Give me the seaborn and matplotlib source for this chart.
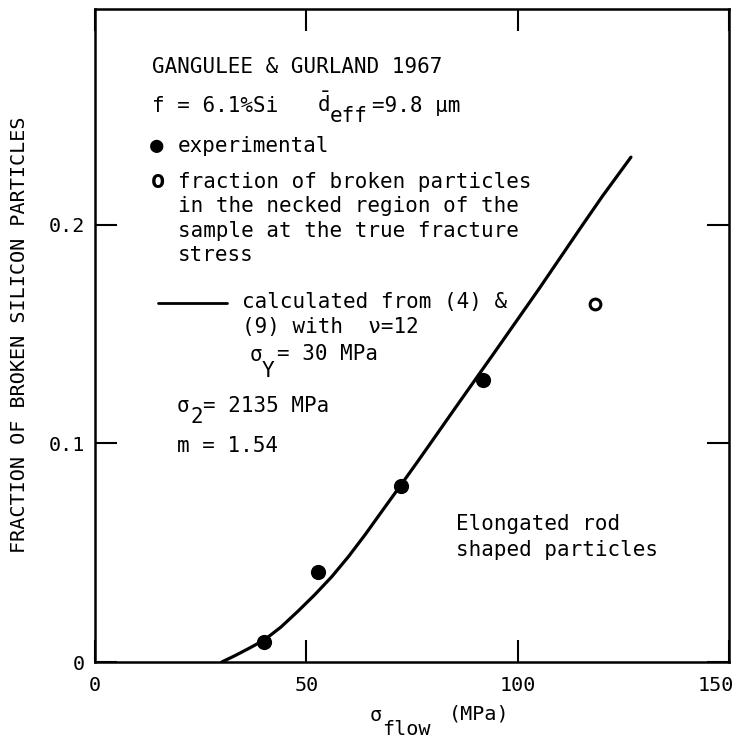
import numpy as np
import pandas as pd
import matplotlib
matplotlib.use("Agg")
import matplotlib.pyplot as plt
from matplotlib.lines import Line2D
import matplotlib.transforms as mtransforms
import seaborn as sns

# ---- data ----
exp_x = [40.0, 52.8, 72.3, 91.7]
exp_y = [0.0093, 0.041, 0.0805, 0.129]
neck_x = [118.3]
neck_y = [0.164]
calc_x = [30, 33, 36, 40, 44, 48, 52, 56, 60, 64, 68, 72, 76, 80, 85, 90,
          95, 100, 105, 110, 115, 120, 126.8]
calc_y = [0.0, 0.0028, 0.0058, 0.0100, 0.0160, 0.0232, 0.0308, 0.0390,
          0.0483, 0.0585, 0.0693, 0.0800, 0.0908, 0.1018, 0.1156, 0.1293,
          0.1430, 0.1568, 0.1706, 0.1848, 0.1990, 0.2130, 0.2310]
x_ticks = [0, 50, 100, 150]
x_tick_labels = ["0", "50", "100", "150"]
y_ticks = [0, 0.1, 0.2]
y_tick_labels = ["0", "0.1", "0.2"]

W, H = 736, 743
sns.set_style("ticks")
plt.rcParams['font.family'] = ['DejaVu Sans Mono', 'DejaVu Sans']
plt.rcParams['mathtext.fontset'] = 'custom'
plt.rcParams['mathtext.rm'] = 'DejaVu Sans Mono'
plt.rcParams['mathtext.it'] = 'DejaVu Sans Mono'
plt.rcParams['text.color'] = 'black'
plt.rcParams['axes.labelcolor'] = 'black'

fig = plt.figure(figsize=(W / 100, H / 100), dpi=100)
L, R, T, B = 95, 729, 9, 662
ax = fig.add_axes([L / W, 1 - B / H, (R - L) / W, (B - T) / H])

calc = pd.DataFrame({"x": calc_x, "y": calc_y})
sns.lineplot(data=calc, x="x", y="y", color="black", lw=2.3, ax=ax, sort=False)
sns.scatterplot(x=exp_x, y=exp_y, s=120, color="black", linewidth=0, ax=ax, zorder=3)
sns.scatterplot(x=neck_x, y=neck_y, s=60, facecolor="white", edgecolor="black",
                linewidth=2.2, ax=ax, zorder=3)

ax.set_xlim(0, 150)
ax.set_ylim(0, 0.2988)
ax.set_xticks(x_ticks)
ax.set_xticklabels(x_tick_labels)
ax.set_yticks(y_ticks)
ax.set_yticklabels(y_tick_labels)
ax.set_xlabel("")
ax.set_ylabel("")
ax.tick_params(direction="in", length=16, width=1.5, top=True, right=True,
               labelsize=14.5, colors="black")
ax.tick_params(axis="y", pad=7)
ax.tick_params(axis="x", pad=10)
for sp in ax.spines.values():
    sp.set_linewidth(1.8)
    sp.set_color("black")
    sp.set_visible(True)

# last x tick label sits inside the figure edge, as in the reference
last = ax.get_xticklabels()[-1]
last.set_transform(last.get_transform() +
                   mtransforms.ScaledTranslation(-13 / 100, 0, fig.dpi_scale_trans))

FS = 15


def txt(px, py, s, fs=FS, **kw):
    fig.text(px / W, 1 - py / H, s, fontsize=fs, va="baseline", ha="left", **kw)


txt(152, 73, "GANGULEE & GURLAND 1967")
txt(152, 112, "f = 6.1%Si")
txt(317, 112, r"$\bar{\mathrm{d}}$")
txt(330, 122, "eff")
txt(372, 112, "=9.8 \u03bcm")
txt(150, 152, "\u25cf", fs=16)
txt(178, 152, "experimental")
txt(151, 188, "o", fs=17, fontweight="bold")
txt(178, 188, "fraction of broken particles")
txt(178, 212.5, "in the necked region of the")
txt(178, 237, "sample at the true fracture")
txt(178, 261.5, "stress")
fig.add_artist(Line2D([158 / W, 227 / W], [1 - 303 / H, 1 - 303 / H],
                      color="black", lw=2.0))
txt(242, 308, "calculated from (4) &")
txt(242, 333, "(9) with  \u03bd=12")
txt(250, 361, "\u03c3")
txt(262, 377, "Y")
txt(277, 360, "= 30 MPa")
txt(177, 412, "\u03c3")
txt(190, 423, "2")
txt(203, 412, "= 2135 MPa")
txt(177, 452, "m = 1.54")
txt(456, 530, "Elongated rod")
txt(456, 556, "shaped particles")

# axis labels
fig.text(20 / W, 1 - 335 / H, "FRACTION OF BROKEN SILICON PARTICLES", fontsize=14.5,
         rotation=90, ha="center", va="center")
txt(370, 721, "\u03c3", fs=14.5)
txt(382, 735, "flow", fs=14.5)
txt(449, 720, "(MPa)", fs=14.5)

fig.savefig("out.png", dpi=100)
